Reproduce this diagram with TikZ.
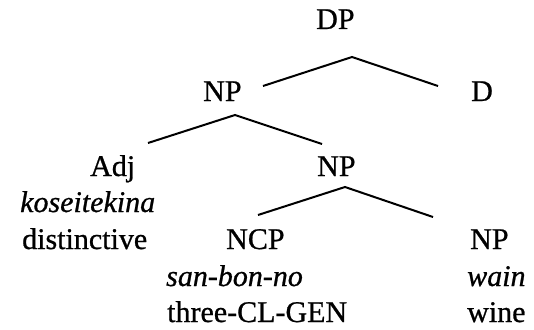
\documentclass[tikz,border=0pt]{standalone}
\usepackage{fontspec}
\setmainfont{Liberation Serif}[FakeBold=0.8,ItalicFeatures={FakeBold=0.8}]
\usepackage{tikz}
\usetikzlibrary{calc}

\begin{document}
\begin{tikzpicture}[x=1pt,y=-1pt,
  lbl/.style={anchor=base west,inner sep=0pt,font=\fontsize{30}{36}\selectfont},
  branch/.style={line width=2pt}]
\useasboundingbox (0,0) rectangle (534,329);
% category labels
\node[lbl] (dp) at (316,29) {DP};
\node[lbl] (npa) at (203,101) {NP};
\node[lbl] (d) at (471,101) {D};
\node[lbl] (adj) at (90,176) {Adj};
\node[lbl] (npb) at (317,176) {NP};
\node[lbl] (ncp) at (226,249) {NCP};
\node[lbl] (npc) at (470,249) {NP};
% words and glosses
\node[lbl] (kos) at (20,212) {\textit{koseitekina}};
\node[lbl] (dist) at (22,249) {distinctive};
\node[lbl] (san) at (166,286) {\textit{san-bon-no}};
\node[lbl] (three) at (167,322) {three-CL-GEN};
\node[lbl] (wain) at (467,286) {\textit{wain}};
\node[lbl] (wine) at (467,322) {wine};
% branches
\coordinate (dptop) at (352,57);
\coordinate (dpleft) at (263,86);
\coordinate (dpright) at (438,86);
\coordinate (npatop) at (235,115);
\coordinate (npaleft) at (148,143);
\coordinate (nparight) at (322,144);
\coordinate (npbtop) at (345,187);
\coordinate (npbleft) at (258,215);
\coordinate (npbright) at (433,217);
\draw[branch] (dpleft) -- (dptop) -- (dpright);
\draw[branch] (npaleft) -- (npatop) -- (nparight);
\draw[branch] (npbleft) -- (npbtop) -- (npbright);
\end{tikzpicture}
\end{document}
